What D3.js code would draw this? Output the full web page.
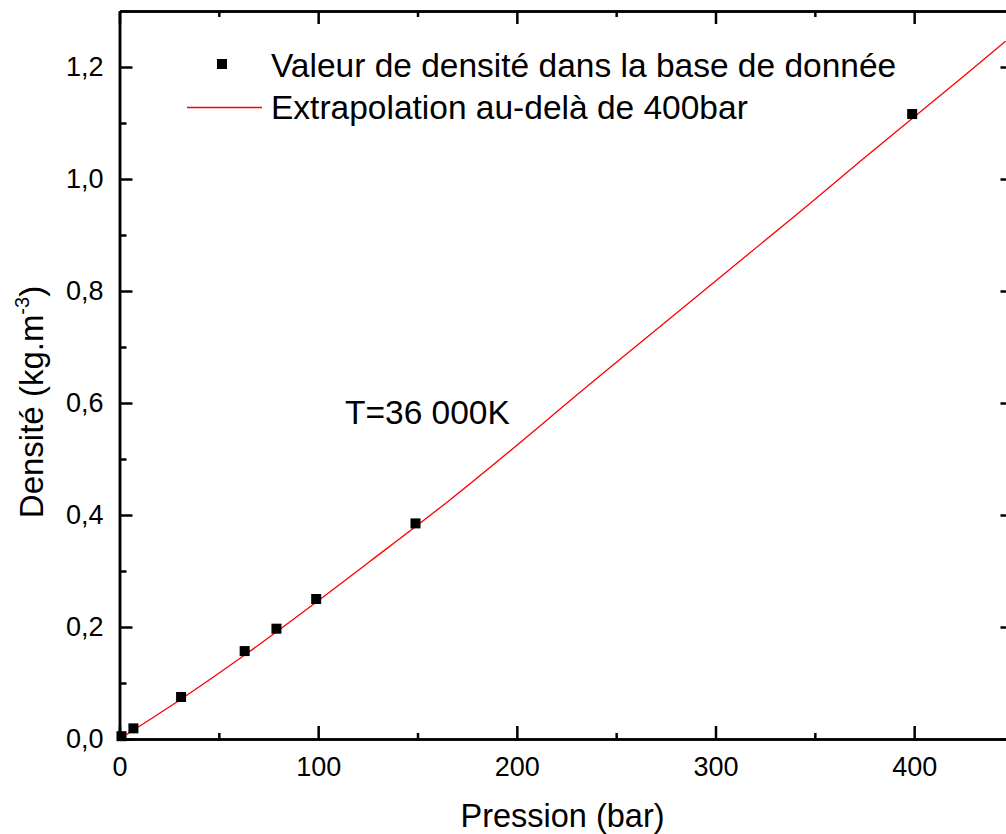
<!DOCTYPE html>
<html>
<head>
<meta charset="utf-8">
<script src="https://cdn.jsdelivr.net/npm/d3@7"></script>
<style>
  body { margin: 0; background: #fff; }
  svg { display: block; font-family: Arial, "Liberation Sans", sans-serif; }
  text { fill: #000; }
</style>
</head>
<body>
<svg id="chart" width="1006" height="834"></svg>
<script>
// measured points (bar, kg.m-3)
const pression = [1, 7, 31, 63, 79, 99, 149, 399];
const densite = [0.005, 0.019, 0.075, 0.157, 0.197, 0.25, 0.385, 1.116];

// red extrapolation curve
const fitP = [0, 29, 63, 106, 126, 166, 242, 343, 373, 422, 446];
const fitD = [0, 0.0665, 0.150, 0.263, 0.317, 0.426, 0.649, 0.943, 1.032, 1.175, 1.246];

const xMajor = [0, 100, 200, 300, 400];
const xMinor = [50, 150, 250, 350];
const yMajor = [0, 0.2, 0.4, 0.6, 0.8, 1.0, 1.2];
const yMinor = [0.1, 0.3, 0.5, 0.7, 0.9, 1.1];

const legendLabels = ["Valeur de densité dans la base de donnée", "Extrapolation au-delà de 400bar"];

const margin = {left: 119.5, top: 11};
const W = 894, H = 728; // plot area (right edge falls just outside the window)

const svg = d3.select("#chart");
const g = svg.append("g").attr("transform", "translate(" + margin.left + "," + margin.top + ")");

const x = d3.scaleLinear().domain([0, 450]).range([0, W]);
const y = d3.scaleLinear().domain([0, 1.3]).range([H, 0]);

const comma = v => d3.format(".1f")(v).replace(".", ",");

//helper that draws one axis and styles it
function draw_axis(axis, tx, ty, labels) {
  const a = g.append("g").attr("transform", "translate(" + tx + "," + ty + ")").call(axis);
  a.select(".domain").attr("stroke", "#000").attr("stroke-width", 2.5);
  a.selectAll(".tick line").attr("stroke", "#000").attr("stroke-width", 2.5);
  a.selectAll("text").attr("font-size", labels ? 27 : 0).attr("fill", "#000")
    .attr("font-family", "Arial, 'Liberation Sans', sans-serif");
  return a;
}

// bottom
draw_axis(d3.axisBottom(x).tickValues(xMinor).tickSizeInner(-6).tickSizeOuter(0).tickFormat(""), 0, H, false);
draw_axis(d3.axisBottom(x).tickValues(xMajor).tickSizeInner(-13).tickSizeOuter(0).tickPadding(18).tickFormat(d3.format("d")), 0, H, true);
// top
draw_axis(d3.axisTop(x).tickValues(xMinor).tickSizeInner(-6).tickSizeOuter(0).tickFormat(""), 0, 0, false);
draw_axis(d3.axisTop(x).tickValues(xMajor).tickSizeInner(-13).tickSizeOuter(0).tickFormat(""), 0, 0, false);
// left
draw_axis(d3.axisLeft(y).tickValues(yMinor).tickSizeInner(-7).tickSizeOuter(0).tickFormat(""), 0, 0, false);
draw_axis(d3.axisLeft(y).tickValues(yMajor).tickSizeInner(-13).tickSizeOuter(0).tickPadding(16).tickFormat(comma), 0, 0, true);
// right
draw_axis(d3.axisRight(y).tickValues(yMinor).tickSizeInner(-7).tickSizeOuter(0).tickFormat(""), W, 0, false);
draw_axis(d3.axisRight(y).tickValues(yMajor).tickSizeInner(-13).tickSizeOuter(0).tickFormat(""), W, 0, false);

// extrapolation curve
const line = d3.line().x(d => x(d[0])).y(d => y(d[1])).curve(d3.curveMonotoneX);
g.append("path")
  .datum(d3.zip(fitP, fitD))
  .attr("d", line)
  .attr("fill", "none")
  .attr("stroke", "#ff0000")
  .attr("stroke-width", 1.3);

// data points
const sq = 10;
g.selectAll("rect.pt")
  .data(d3.zip(pression, densite))
  .join("rect")
  .attr("class", "pt")
  .attr("x", d => x(d[0]) - sq / 2)
  .attr("y", d => y(d[1]) - sq / 2)
  .attr("width", sq)
  .attr("height", sq)
  .attr("fill", "#000");

// legend
svg.append("rect").attr("x", 217).attr("y", 59).attr("width", sq).attr("height", sq).attr("fill", "#000");
svg.append("line").attr("x1", 187).attr("x2", 262).attr("y1", 107.5).attr("y2", 107.5)
  .attr("stroke", "#ff0000").attr("stroke-width", 1.3);
svg.selectAll("text.leg")
  .data(legendLabels)
  .join("text")
  .attr("class", "leg")
  .attr("x", 271)
  .attr("y", (d, i) => 77 + i * 42)
  .attr("font-size", 33.5)
  .text(d => d);

// temperature annotation
svg.append("text").attr("x", 345).attr("y", 424).attr("font-size", 33.5).text("T=36 000K");

// axis titles
svg.append("text")
  .attr("x", margin.left + W / 2 - 4)
  .attr("y", 827)
  .attr("text-anchor", "middle")
  .attr("font-size", 32.5)
  .text("Pression (bar)");

const yt = svg.append("text")
  .attr("transform", "translate(43,402) rotate(-90)")
  .attr("text-anchor", "middle")
  .attr("font-size", 33);
yt.append("tspan").text("Densité (kg.m");
yt.append("tspan").attr("font-size", 20).attr("dy", -14).text("-3");
yt.append("tspan").attr("dy", 14).text(")");
</script>
</body>
</html>
